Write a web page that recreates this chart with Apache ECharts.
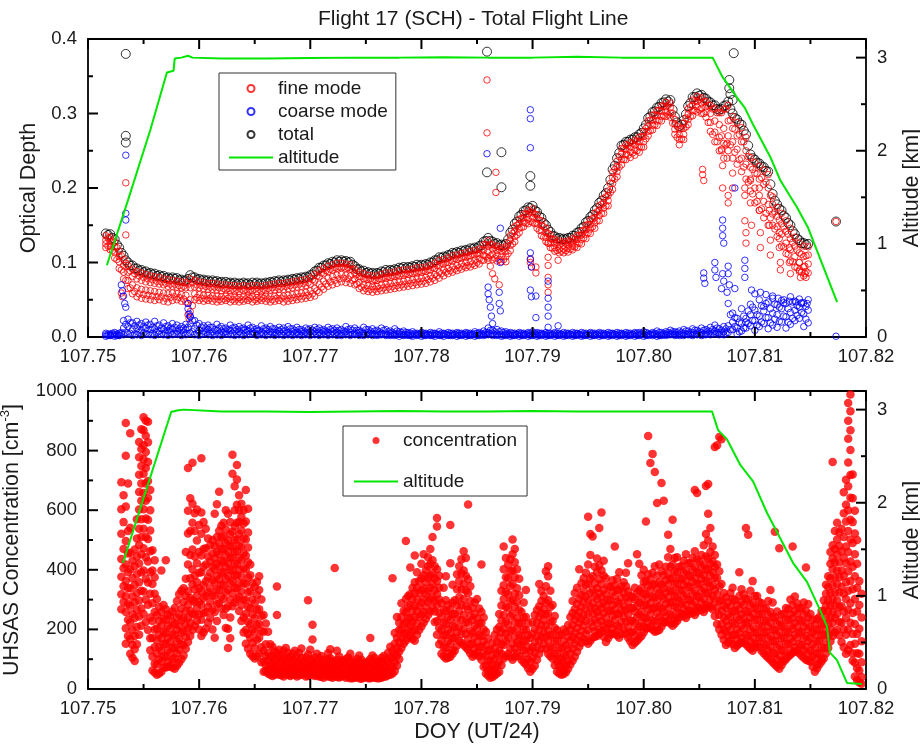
<!DOCTYPE html>
<html>
<head>
<meta charset="utf-8">
<title>Flight 17 (SCH) - Total Flight Line</title>
<script src="https://cdn.jsdelivr.net/npm/echarts@6/dist/echarts.min.js"></script>
<style>
  html, body { margin: 0; padding: 0; background: #ffffff; }
  #chart { width: 920px; height: 748px; }
</style>
</head>
<body>
<div id="chart"></div>
<script>
// ---------- Optical depth samples ----------
// Row samples sit at odStart + i * odStep; the "Half" rows sit halfway between them.
const odStart = 107.7516;
const odStep = 0.0004;
const totalOD = [
  .139,.138,.131,.120,.109,.100,.096,.092,.090,.088,.086,.085,.083,.082,.080,.080,.079,.077,.076,.083,
  .080,.078,.077,.076,.076,.075,.074,.074,.073,.073,.072,.073,.072,.073,.073,.072,.073,.074,.075,.076,
  .076,.077,.078,.079,.080,.081,.083,.088,.093,.096,.099,.101,.103,.103,.102,.101,.095,.091,.089,.087,
  .086,.086,.088,.090,.090,.091,.093,.094,.094,.095,.097,.097,.098,.100,.103,.107,.108,.110,.113,.114,
  .116,.117,.119,.120,.122,.128,.133,.128,.126,.124,.125,.140,.152,.162,.169,.174,.176,.168,.160,.150,
  .141,.135,.133,.132,.133,.136,.140,.146,.154,.161,.170,.180,.190,.200,.225,.240,.257,.262,.265,.268,
  .272,.280,.294,.302,.308,.314,.319,.318,.296,.283,.291,.310,.322,.327,.325,.320,.315,.311,.305,.310,
  .316,.300,.292,.285,.272,.245,.238,.233,.228,.222,.192,.178,.170,.160,.150,.138,.130,.126,.125
];
const totalODHalf = [
  .137,.133,.124,.113,.103,.096,.092,.089,.087,.085,.084,.082,.081,.079,.078,.078,.076,.075,.078,.080,
  .077,.076,.075,.074,.074,.073,.072,.072,.071,.071,.071,.071,.070,.071,.071,.071,.072,.073,.074,.074,
  .075,.076,.077,.078,.079,.080,.084,.089,.093,.096,.098,.100,.101,.101,.100,.097,.091,.088,.086,.085,
  .084,.085,.087,.088,.089,.090,.092,.092,.093,.094,.095,.096,.097,.100,.103,.106,.107,.110,.112,.113,
  .115,.116,.118,.119,.123,.129,.129,.125,.123,.123,.131,.144,.155,.164,.170,.173,.170,.162,.153,.144,
  .136,.132,.131,.131,.133,.136,.141,.148,.156,.164,.173,.183,.193,.211,.230,.247,.258,.262,.265,.268,
  .274,.285,.296,.303,.309,.315,.316,.305,.288,.285,.299,.314,.322,.324,.321,.316,.311,.306,.306,.311,
  .306,.294,.287,.277,.257,.240,.234,.229,.223,.205,.183,.172,.163,.153,.142,.132,.126,.124
];
const fineOD1 = [
  .136,.134,.127,.115,.104,.096,.091,.088,.086,.084,.082,.081,.080,.078,.077,.076,.075,.074,.073,.078,
  .076,.074,.073,.072,.072,.071,.070,.070,.069,.069,.068,.069,.068,.069,.069,.068,.069,.070,.071,.072,
  .072,.073,.074,.075,.076,.077,.079,.084,.089,.092,.095,.097,.099,.099,.098,.097,.091,.087,.085,.083,
  .082,.082,.084,.086,.086,.087,.089,.090,.090,.091,.093,.093,.094,.096,.099,.103,.104,.106,.109,.110,
  .112,.113,.115,.116,.118,.124,.129,.124,.122,.120,.121,.136,.148,.158,.165,.170,.172,.164,.156,.146,
  .137,.131,.129,.128,.129,.132,.136,.142,.150,.157,.166,.176,.186,.196,.221,.236,.253,.258,.261,.264,
  .268,.276,.290,.298,.304,.310,.315,.314,.292,.279,.287,.306,.318,.323,.321,.316,.311,.307,.301,.306,
  .311,.296,.288,.281,.268,.241,.234,.229,.224,.218,.188,.174,.166,.156,.146,.134,.126,.122,.121
];
const fineOD2 = [
  .130,.128,.121,.108,.096,.087,.081,.078,.076,.074,.073,.072,.071,.070,.068,.068,.067,.066,.066,.066,
  .067,.066,.065,.064,.064,.063,.062,.063,.062,.061,.061,.062,.061,.062,.061,.061,.062,.063,.063,.064,
  .064,.065,.066,.067,.068,.069,.071,.075,.081,.085,.088,.090,.092,.093,.092,.091,.086,.081,.078,.077,
  .075,.076,.078,.079,.080,.081,.082,.083,.084,.085,.086,.087,.088,.090,.092,.096,.098,.100,.102,.104,
  .106,.107,.109,.110,.112,.117,.122,.118,.116,.115,.115,.130,.142,.152,.160,.165,.167,.159,.150,.140,
  .132,.126,.124,.123,.124,.127,.131,.137,.144,.151,.160,.170,.180,.190,.214,.229,.246,.252,.255,.258,
  .262,.269,.283,.291,.297,.303,.309,.308,.286,.272,.280,.299,.311,.316,.314,.309,.300,.290,.285,.280,
  .290,.280,.270,.262,.250,.228,.220,.212,.205,.200,.178,.162,.152,.142,.132,.122,.113,.108,.110
];
const fineOD3 = [
  .125,.122,.114,.101,.087,.076,.070,.066,.064,.063,.062,.061,.060,.059,.058,.059,.058,.057,.056,.050,
  .058,.057,.056,.056,.055,.055,.054,.055,.054,.054,.053,.054,.055,.054,.053,.054,.055,.054,.055,.056,
  .055,.056,.057,.058,.059,.060,.062,.065,.071,.075,.079,.081,.083,.084,.083,.082,.078,.073,.070,.069,
  .068,.068,.070,.071,.072,.073,.074,.075,.076,.077,.078,.079,.080,.082,.084,.087,.090,.092,.094,.096,
  .098,.100,.101,.103,.105,.110,.114,.111,.109,.108,.108,.123,.135,.146,.154,.158,.160,.152,.143,.134,
  .126,.120,.118,.118,.119,.122,.125,.131,.138,.145,.153,.163,.173,.183,.206,.222,.238,.245,.248,.251,
  .255,.262,.276,.284,.290,.296,.302,.301,.279,.265,.272,.292,.304,.309,.307,.302,.288,.275,.268,.260,
  .270,.262,.252,.240,.232,.212,.200,.190,.182,.178,.165,.148,.138,.126,.117,.108,.100,.094,.098
];
const fineOD4 = [
  .120,.117,.106,.092,.078,.065,.058,.054,.052,.051,.050,.049,.050,.048,.047,.049,.050,.048,.047,.034,
  .050,.049,.048,.049,.048,.047,.048,.049,.047,.048,.047,.048,.049,.047,.048,.049,.048,.047,.048,.049,
  .047,.048,.049,.050,.051,.052,.053,.055,.060,.064,.068,.070,.072,.074,.073,.072,.070,.065,.062,.061,
  .060,.061,.062,.063,.064,.065,.066,.067,.068,.069,.070,.071,.072,.074,.076,.079,.082,.085,.087,.089,
  .091,.093,.094,.096,.098,.103,.106,.104,.102,.101,.101,.116,.128,.140,.148,.152,.154,.146,.136,.128,
  .120,.115,.113,.113,.114,.117,.120,.125,.132,.139,.146,.156,.166,.176,.198,.215,.231,.238,.241,.244,
  .248,.255,.270,.278,.284,.290,.296,.295,.272,.258,.265,.285,.297,.302,.300,.295,.276,.262,.250,.240,
  .250,.240,.232,.222,.212,.196,.180,.170,.160,.150,.150,.135,.122,.112,.102,.094,.088,.082,.086
];
const fineODHalfUpper = [
  .133,.129,.120,.109,.099,.089,.085,.082,.080,.078,.077,.075,.074,.072,.071,.071,.069,.068,.071,.073,
  .070,.069,.068,.067,.067,.066,.065,.065,.064,.064,.064,.064,.063,.064,.064,.064,.065,.066,.067,.067,
  .068,.069,.070,.071,.072,.073,.077,.082,.086,.089,.091,.093,.094,.094,.093,.090,.084,.081,.079,.078,
  .077,.078,.080,.081,.082,.083,.085,.085,.086,.087,.088,.089,.090,.093,.096,.099,.100,.103,.105,.106,
  .108,.109,.111,.112,.116,.124,.124,.120,.118,.118,.126,.139,.150,.159,.165,.168,.165,.157,.148,.139,
  .131,.127,.126,.126,.128,.131,.136,.143,.151,.159,.168,.178,.188,.206,.225,.242,.253,.257,.260,.263,
  .269,.280,.291,.298,.304,.310,.311,.300,.283,.280,.294,.309,.317,.319,.316,.311,.306,.301,.301,.306,
  .291,.279,.272,.262,.242,.225,.219,.214,.208,.190,.168,.157,.148,.138,.127,.117,.111,.109
];
const fineODHalfLower = [
  .122,.116,.104,.090,.076,.066,.061,.058,.057,.056,.055,.054,.054,.052,.053,.054,.053,.051,.045,.042,
  .053,.052,.051,.052,.051,.050,.051,.052,.050,.051,.050,.051,.052,.050,.051,.052,.051,.050,.052,.052,
  .051,.052,.053,.054,.055,.056,.058,.062,.067,.071,.074,.076,.078,.079,.078,.076,.071,.067,.065,.064,
  .064,.065,.066,.067,.068,.069,.070,.071,.072,.073,.074,.075,.077,.079,.082,.085,.087,.089,.091,.093,
  .095,.096,.098,.100,.103,.108,.109,.106,.104,.104,.112,.125,.137,.147,.153,.155,.152,.143,.134,.126,
  .119,.116,.115,.116,.118,.121,.126,.133,.140,.148,.156,.166,.176,.194,.212,.228,.238,.244,.247,.250,
  .255,.266,.277,.285,.291,.297,.298,.287,.268,.266,.282,.296,.304,.305,.300,.288,.272,.262,.252,.258,
  .258,.248,.238,.228,.208,.192,.182,.172,.166,.160,.145,.132,.121,.111,.101,.093,.087,.088
];
const coarseOD1 = [
  .005,.004,.006,.005,.022,.024,.019,.021,.018,.020,.017,.021,.016,.019,.015,.018,.016,.014,.017,.028,
  .022,.018,.015,.016,.013,.017,.014,.012,.016,.013,.014,.012,.016,.013,.011,.015,.012,.014,.011,.013,
  .012,.014,.011,.013,.010,.012,.011,.013,.012,.010,.013,.011,.012,.010,.014,.011,.012,.009,.013,.010,
  .011,.009,.012,.010,.008,.011,.007,.008,.006,.007,.005,.006,.005,.006,.005,.007,.005,.006,.005,.006,
  .005,.006,.005,.007,.006,.008,.012,.009,.010,.008,.007,.006,.005,.006,.005,.006,.007,.006,.005,.006,
  .005,.006,.005,.006,.005,.006,.005,.006,.005,.006,.005,.006,.005,.006,.005,.006,.005,.006,.005,.006,
  .006,.007,.005,.006,.008,.006,.007,.009,.007,.008,.010,.008,.011,.009,.012,.010,.013,.016,.011,.014,
  .045,.032,.025,.038,.020,.044,.036,.050,.041,.047,.052,.043,.049,.045,.054,.048,.051,.046,.050
];
const coarseOD2 = [
  .003,.002,.003,.002,.012,.014,.010,.011,.009,.012,.010,.011,.008,.010,.009,.011,.008,.009,.010,.018,
  .011,.009,.008,.010,.007,.009,.008,.007,.009,.008,.007,.009,.008,.007,.008,.006,.008,.007,.006,.008,
  .007,.006,.007,.006,.007,.006,.007,.007,.006,.007,.006,.007,.006,.005,.007,.006,.005,.006,.005,.006,
  .005,.004,.005,.004,.005,.004,.004,.003,.004,.003,.003,.004,.003,.003,.004,.003,.004,.003,.003,.004,
  .003,.004,.003,.004,.003,.004,.006,.005,.004,.003,.004,.003,.003,.004,.003,.004,.003,.003,.004,.003,
  .003,.004,.003,.003,.004,.003,.004,.003,.003,.004,.003,.004,.003,.003,.004,.003,.004,.003,.003,.004,
  .003,.004,.003,.004,.004,.003,.004,.005,.004,.004,.005,.004,.006,.005,.006,.005,.007,.008,.006,.007,
  .015,.020,.012,.018,.025,.030,.022,.028,.035,.026,.032,.030,.038,.027,.033,.036,.040,.031,.036
];
const coarseOD3 = [
  .001,.002,.001,.002,.003,.004,.002,.003,.002,.004,.003,.002,.004,.003,.002,.003,.004,.002,.003,.005,
  .003,.002,.004,.003,.002,.003,.002,.004,.003,.002,.003,.002,.003,.004,.002,.003,.002,.003,.002,.003,
  .002,.003,.002,.003,.002,.003,.002,.003,.002,.003,.002,.003,.002,.002,.003,.002,.003,.002,.002,.003,
  .002,.002,.003,.002,.002,.002,.001,.002,.002,.001,.002,.001,.002,.002,.001,.002,.001,.002,.002,.001,
  .002,.001,.002,.001,.002,.002,.003,.002,.002,.001,.002,.001,.002,.001,.002,.001,.002,.001,.002,.001,
  .002,.001,.002,.001,.002,.001,.002,.001,.002,.001,.002,.001,.002,.001,.002,.001,.002,.001,.002,.001,
  .002,.001,.002,.002,.001,.002,.002,.003,.002,.002,.002,.003,.002,.003,.002,.003,.003,.004,.003,.003,
  .006,.010,.004,.008,.012,.015,.009,.014,.018,.011,.016,.013,.020,.012,.017,.022,.025,.014,.019
];
const coarseODHalfLower = [
  .002,.003,.002,.004,.006,.005,.004,.006,.005,.004,.005,.006,.004,.005,.006,.004,.005,.006,.005,.007,
  .005,.004,.006,.005,.004,.005,.006,.004,.005,.004,.005,.006,.004,.005,.004,.005,.004,.006,.005,.004,
  .005,.004,.005,.004,.005,.004,.005,.004,.005,.004,.004,.005,.004,.005,.004,.004,.005,.004,.004,.005,
  .004,.003,.004,.003,.003,.004,.003,.003,.002,.003,.003,.002,.003,.002,.003,.002,.003,.002,.003,.002,
  .003,.002,.003,.002,.003,.003,.004,.003,.003,.002,.003,.002,.003,.002,.003,.002,.003,.002,.003,.002,
  .003,.002,.003,.002,.003,.002,.003,.002,.003,.002,.003,.002,.003,.002,.003,.002,.003,.002,.003,.002,
  .003,.002,.003,.003,.002,.003,.003,.004,.003,.003,.004,.003,.004,.004,.003,.004,.005,.006,.004,.005,
  .010,.014,.007,.012,.018,.022,.016,.020,.026,.019,.024,.021,.028,.020,.025,.029,.033,.024
];
const coarseODHalfUpper = [
  .004,.005,.004,.006,.017,.019,.015,.016,.014,.016,.013,.015,.012,.014,.012,.013,.011,.012,.013,.022,
  .016,.013,.012,.013,.010,.012,.011,.010,.012,.010,.011,.010,.012,.010,.009,.011,.010,.011,.009,.010,
  .009,.011,.009,.010,.008,.010,.009,.010,.009,.008,.010,.009,.009,.008,.010,.009,.009,.007,.010,.008,
  .008,.007,.009,.007,.006,.008,.006,.006,.005,.005,.004,.005,.004,.005,.004,.005,.004,.005,.004,.005,
  .004,.005,.004,.005,.005,.006,.009,.007,.007,.006,.005,.005,.004,.005,.004,.005,.005,.005,.004,.005,
  .004,.005,.004,.005,.004,.005,.004,.005,.004,.005,.004,.005,.004,.005,.004,.005,.004,.005,.004,.005,
  .005,.006,.004,.005,.006,.005,.006,.007,.006,.006,.008,.006,.009,.007,.009,.008,.010,.012,.009,.011,
  .030,.026,.020,.028,.035,.040,.030,.042,.045,.038,.044,.040,.046,.038,.047,.042,.045,.041
];
// Isolated retrievals off the main sequence: [DOY, optical depth]
const totalExtra = [
  [107.7534,.380],[107.7534,.270],[107.7534,.261],[107.7859,.383],[107.7859,.221],
  [107.7872,.248],[107.7872,.201],[107.7898,.216],[107.7898,.203],[107.8081,.381],
  [107.8077,.345],[107.8077,.334],[107.8078,.326],[107.8080,.318],[107.8173,.155]
];
const fineExtra = [
  [107.7534,.207],[107.7534,.137],[107.7530,.059],[107.7531,.054],[107.7591,.025],[107.7590,.030],
  [107.7859,.345],[107.7859,.274],[107.7867,.221],[107.7867,.194],[107.7860,.103],[107.7862,.095],
  [107.7864,.085],[107.7866,.078],[107.7870,.070],[107.7898,.105],[107.7898,.100],[107.7899,.094],
  [107.7903,.094],[107.7903,.086],[107.7914,.126],[107.7914,.107],[107.7914,.096],[107.7914,.080],
  [107.7914,.070],[107.7914,.060],[107.7923,.103],
  [107.8053,.225],[107.8053,.218],[107.8054,.210],[107.8070,.270],[107.8070,.250],[107.8071,.230],
  [107.8071,.200],[107.8075,.260],[107.8075,.240],[107.8076,.190],[107.8076,.180],[107.8080,.220],
  [107.8080,.200],[107.8091,.200],[107.8091,.190],[107.8091,.156],[107.8092,.140],[107.8092,.126],
  [107.8096,.210],[107.8096,.180],[107.8097,.150],[107.8104,.200],[107.8104,.170],[107.8105,.140],
  [107.8105,.120],[107.8113,.170],[107.8113,.150],[107.8114,.130],[107.8114,.110],[107.8122,.140],
  [107.8122,.120],[107.8123,.100],[107.8123,.090],[107.8131,.120],[107.8131,.100],[107.8132,.085],
  [107.8140,.100],[107.8140,.090],[107.8141,.080],[107.8145,.095],[107.8145,.085],[107.8146,.080],
  [107.8173,.155]
];
const coarseExtra = [
  [107.7530,.070],[107.7531,.062],[107.7532,.055],[107.7533,.045],[107.7534,.040],[107.7534,.166],
  [107.7534,.157],[107.7534,.244],[107.7590,.045],[107.7590,.038],[107.7591,.031],[107.7592,.027],
  [107.7859,.246],[107.7860,.067],[107.7860,.058],[107.7861,.050],[107.7862,.040],[107.7863,.028],
  [107.7864,.018],[107.7871,.146],[107.7871,.100],[107.7870,.060],[107.7870,.045],[107.7871,.035],
  [107.7898,.305],[107.7898,.293],[107.7898,.254],[107.7898,.113],[107.7898,.104],[107.7899,.094],
  [107.7898,.063],[107.7899,.054],[107.7903,.055],[107.7903,.026],[107.7914,.075],[107.7914,.052],
  [107.7914,.040],[107.7914,.028],[107.7914,.013],[107.7923,.015],
  [107.8054,.086],[107.8054,.079],[107.8055,.072],[107.8064,.100],[107.8064,.090],[107.8065,.080],
  [107.8071,.157],[107.8071,.146],[107.8071,.136],[107.8072,.126],[107.8071,.085],[107.8072,.075],
  [107.8070,.065],[107.8076,.095],[107.8076,.085],[107.8077,.070],[107.8075,.060],[107.8082,.200],
  [107.8082,.065],[107.8091,.103],[107.8091,.092],[107.8091,.080],[107.8097,.063],[107.8100,.058],
  [107.8105,.060],[107.8110,.057],[107.8116,.055],[107.8121,.052],[107.8126,.050],[107.8131,.048],
  [107.8137,.047],[107.8142,.046],[107.8147,.045],[107.8173,.001]
];

// ---------- Aircraft altitude, km ----------
const altTopTime = [
  107.7517,107.7536,107.7556,107.7571,107.7577,107.7578,107.7584,107.7590,107.7594,107.7620,
  107.7660,107.7700,107.7740,107.7780,107.7820,107.7860,107.7900,107.7940,107.7980,107.8020,
  107.8062,107.8071,107.8084,107.8091,107.8098,107.8114,107.8123,107.8138,107.8148,107.8174
];
const altTopKm = [
  0.77,1.47,2.22,2.84,2.86,2.99,3.00,3.02,3.00,2.99,2.99,2.995,3.00,3.00,3.005,3.00,3.00,3.01,3.00,3.00,
  3.00,2.79,2.57,2.46,2.29,1.93,1.68,1.39,1.17,0.375
];
const altBotTime = [
  107.75315,107.7550,107.7575,107.7577,107.7580,107.7586,107.7620,107.7660,107.7700,107.7740,
  107.7780,107.7820,107.7860,107.7900,107.7940,107.7980,107.8020,107.80615,107.80669,107.8075,
  107.80867,107.80984,107.8111,107.81343,107.81469,107.81586,107.81649,107.81676,107.81739,107.81829,
  107.81964
];
const altBotKm = [
  1.355,2.05,2.98,2.98,2.99,3.00,2.98,2.98,2.975,2.98,2.985,2.98,2.98,2.985,2.98,2.98,2.98,2.98,2.78,2.68,
  2.41,2.23,1.89,1.355,1.15,0.85,0.67,0.39,0.31,0.065,0.054
];

// ---------- UHSAS concentration, cm^-3 ----------
// concColumns[j] at concStart + j * concStep; concColumnsHalf[j] halfway to the next column.
const concStart = 107.7530;
const concStep = 0.0004;
const concColumns = [
  [268,318,377,436,521,603,694],[152,204,258,311,362,418,497,612,783,893],[118,168,223,279,338,402,457,541,858],
  [94,133,178,238,291,349,412,468],[182,243,297,358,421,483,538,602,661,719,778,829],
  [252,327,398,472,538,603,658,722,771,818,868,912],[198,283,357,428,503,568,641,698,762,828,897],
  [62,108,172,228,288,352,398,466],[48,82,118,163,203,248,302],[58,92,128,171,212,258,398],
  [72,108,152,188,232,268,432],[78,122,158,203,247],[68,103,138,182,218,272],[88,132,168,212,251,318],
  [112,148,193,238,292,338],[158,203,238,283,328,418,522,598,742],[198,252,298,351,402,468,558,622,759],
  [228,272,313,358,422,498,602],[178,232,283,328,392,448,521,592,774],[202,258,312,361,418,472,538],
  [238,292,338,391,428,482],[172,258,312,358,402,438,481,588],[288,332,368,412,452,488,531,662],
  [248,302,348,392,428,471,512,558],[138,202,278,332,378,422,461,498,588],[278,322,362,398,441,478,528,722,786],
  [302,338,382,418,462,502,558,618,703,752],[228,282,328,378,432,478,532,578,622],
  [152,198,252,298,352,402,448,502,562,668],[118,172,218,272,328,382,418],[102,138,192,238,288,342],
  [118,172,218,268,332,378],[58,92,128,192,248],[52,68,97,122,192],[44,66,84,112,142],[52,68,96,121,248,344],
  [46,64,91,114],[51,72,94,138],[44,66,86,108],[49,71,96,128],[46,64,89,121],[51,69,94],[44,66,86,116,298],
  [49,71,94,166,216],[46,64,91,118],[41,61,84,111],[46,66,89],[41,59,81,104,133],[44,66,86,406],[39,61,84,109],
  [46,64,91],[41,59,79,106],[36,56,74,96],[41,61,79,101],[34,56,76,98],[41,59,86],[36,54,76,101,171],
  [39,61,79,104],[36,54,76,94],[41,61,84,111],[46,64,91,122],[52,74,102,128,372],[78,112,138,172,242],
  [138,172,198,242,288],[162,188,222,258,302,497],[178,212,238,282,318,408],[162,198,242,278,322,358,448],
  [198,242,278,322,362],[222,258,302,338,382,452],[248,292,328,372,412,442],[272,308,352,388,432,510],
  [182,228,282,318,362,402,545,574],[118,162,198,242,288],[102,138,182,218,262,298,378],
  [108,152,188,232,268,422,550],[128,172,208,252,298],[162,208,262,308,362,412],[148,202,248,302,352,398,462],
  [132,168,222,268,322,368,619],[108,152,188,232,272],[122,158,202,238,302],[98,142,178,222,258,418],
  [52,78,112,148,192],[38,66,94,132],[46,68,102,138,182],[58,92,128,172,208,252],
  [102,148,202,248,302,348,402,478],[118,172,218,272,318,372,418],[98,152,198,252,298,352,398,452,502],
  [122,158,202,238,292,338,402],[98,142,178,222,258],[82,118,162,198,242,332],[58,92,128,172],
  [78,122,158,202,248],[118,162,198,242,278,352],[152,188,232,268,312],[118,162,198,252,298,378,412],
  [102,138,182,228,282],[58,92,118,162,198],[48,76,102,138,182],[56,78,112,148,192],[82,118,162,198,242],
  [108,152,188,232,268,322],[142,178,222,258,302,402],[168,212,248,292,328,372],[152,198,252,298,352,418,578],
  [172,208,252,288,332,378,512],[178,222,258,302,338,392,438],[192,228,272,308,352,398,592],
  [158,202,238,282,318,372],[182,218,262,298,342],[188,232,268,312,348,478],[172,208,252,288,332,392],
  [198,242,278,322,358],[172,208,252,292,328,422],[148,192,228,272,308],[162,198,242,278,322,452],
  [178,222,258,302,338,382],[202,238,282,318,362,562],[208,252,288,332,368,758],[192,228,272,308,352,412,728],
  [198,242,278,322,358,418],[222,258,302,338,382,632],[228,272,308,352,388,442,518],
  [212,248,292,328,372,418,568],[228,272,308,352,392,442],[252,288,332,368,412],[238,282,318,362,398,452],
  [262,298,342,378,422],[248,292,328,372,408,462,668],[272,308,352,388,428],[258,302,338,382,418,482],
  [278,322,358,402,438,498,588,688],[268,312,348,392,428,478],[218,272,318,372,418,818],
  [182,218,262,298,352,838],[148,192,228,272,308],[162,198,242,278,322],[138,182,218,262,298],
  [152,188,232,268,312,392],[158,202,238,282,318],[142,178,222,258,302,518],[128,172,208,252,288,362],
  [152,188,232,268,312],[128,172,208,252,288],[112,148,192,228,272],[98,142,178,222,258,332],
  [82,118,162,198,242,528],[68,112,148,192,228,472],[92,128,172,208,252],[108,152,188,232,268],
  [122,158,202,238,282,478],[128,172,208,252,288],[112,148,192,228,272],[98,142,178,222,262,408],
  [92,128,172,208,252],[58,102,138,182,218],[82,118,162,198,242],[102,138,182,218,262,298],
  [138,182,218,262,298,342,378],[178,222,258,302,348,402,438,482,762],[198,252,298,352,398,452,502,558],
  [158,222,278,342,398,462,538],[118,182,238,302,358,422,478,562,618,702],
  [148,222,288,362,428,502,568,642,718,802,868,932,988],[42,88,152,218,302,378,452,522,598],
  [22,62,118,202,282,362]
];
const concColumnsHalf = [
  [292,345,405,470,560,650],[178,232,285,338,392,455,530,690],[105,148,198,252,310,372,430],
  [150,208,265,322,385,445,505,570],[212,270,330,392,452,510,570,632,690,748,805,872],
  [225,300,370,442,510,572,632,690,742,795,850,900],[130,170,240,320,392,462,532,600,668],
  [55,85,140,200,258,320,375,432],[52,100,140,182,228,275],[72,110,150,192,235,282],[75,92,130,172,212,250],
  [72,100,140,180,225,260],[78,120,160,200,240,295],[100,150,190,230,270,330],[135,175,215,262,312,370,460],
  [178,222,262,305,372,450,530,640],[212,250,292,335,380,445,530,590],[200,250,292,338,390,460,550],
  [190,255,305,350,410,470,560],[222,275,325,375,445,505],[200,265,315,365,410,455,500],
  [228,285,335,380,420,460,510,620],[270,310,350,390,430,470,510,548],[205,270,325,370,410,450,490,535,600],
  [170,240,300,355,400,440,480,520,560],[290,340,380,420,460,500,545,600,680],
  [262,310,355,400,440,480,520,560,600,650],[190,240,300,355,405,455,505,555,600],
  [135,185,225,275,325,375,425,475,525,605],[110,155,200,250,300,355],[110,165,215,265,315,360],
  [90,140,195,245,300],[60,80,110,150,220],[48,60,82,108,150],[48,58,75,98,126],[48,58,80,106,132],
  [42,56,78,102,128],[48,58,82,106,122],[48,55,76,98,118],[42,58,80,108],[48,56,78,104,136],[42,58,80,106],
  [48,56,78,100,132],[44,58,82,106],[42,54,76,102],[38,52,74,98],[42,54,78,100,120],[38,50,72,94],
  [40,56,76,98,128],[42,52,72,96],[38,54,78,100],[36,50,70,92,118],[38,46,66,86],[36,50,70,90,112],
  [38,46,66,88],[36,48,68,92],[38,46,66,88,112],[36,50,70,92],[38,46,66,86,104],[42,52,72,98],
  [48,56,78,106,142],[60,90,118,152,188],[100,125,158,198,222],[152,185,218,262],[172,200,238,275,312],
  [168,195,225,262,300,340],[182,220,262,300,340,392],[210,250,290,332,372,420],[235,275,318,358,398],
  [260,300,340,380,420,470],[225,260,295,332,372,412],[150,205,255,300,340,380],[110,140,180,222,265,340],
  [105,120,160,200,242,282],[118,130,170,212,252,290,350],[145,190,235,282,335,385],
  [155,185,232,282,335,388,435],[140,185,225,278,330,380,440],[120,150,195,245,295,345],
  [115,135,175,212,252,290],[110,140,180,220,270],[75,120,160,200,240],[45,62,95,130,170],
  [40,55,80,112,155],[52,80,118,158,200],[80,118,150,190,230,280,330],[110,160,185,225,275,325,375,440],
  [108,135,195,245,295,345,395,435],[108,135,175,225,275,320,375,425,470],[110,150,180,220,265,315,370],
  [90,130,160,200,240,290],[70,100,140,180,220],[68,105,140,185,225],[98,140,178,222,265],
  [135,175,215,255,295,330],[135,175,212,250,290,345,395],[110,140,180,225,275,330],[80,118,160,205,245],
  [52,75,100,140,180],[50,62,88,120,160,200],[68,95,135,175,215],[95,135,175,215,255,295],
  [125,165,205,245,285,340],[155,195,235,275,315,355],[160,185,228,270,310,350,390],
  [162,225,275,322,370,450,520],[175,195,232,270,312,355,410],[185,200,245,282,322,368,415,540],
  [175,212,255,290,332,380,430],[170,190,220,262,300,345],[185,205,245,282,325,365],
  [180,212,252,292,332,370],[185,225,265,305,345],[185,225,265,305,345,390],[160,190,230,272,312],
  [155,180,220,260,300,340],[170,210,250,290,330,420],[190,210,240,280,320,360,400],
  [205,225,265,305,345,385,849],[200,230,270,310,350,390,789],[195,212,255,295,335,380,624],
  [210,230,270,312,350,395,691],[225,245,285,325,365,410],[220,250,290,330,370,410,470],
  [220,235,275,312,352,395,440],[240,255,295,332,372,410],[245,270,312,350,390,430],
  [250,262,300,342,382,422],[255,280,320,360,400,440],[260,272,312,352,392,435,658],
  [265,290,330,370,410,450],[270,282,322,362,400,445,520,681],[275,300,342,382,420,460,540],
  [245,292,332,372,410,450,812],[200,248,295,345,395,846],[165,200,240,280,322],[155,175,212,250,292],
  [150,180,222,260,302,340],[145,165,200,240,282],[155,172,212,250,292,335],[150,182,222,262,302,540],
  [135,160,200,240,282,330],[140,152,190,232,272,312],[140,172,212,250,292],[120,152,190,230,270],
  [105,130,170,210,250,295],[90,122,160,200,240,290],[75,100,140,180,220,260],[80,92,130,170,212,250],
  [100,110,150,192,232,272],[115,130,170,212,252,300],[125,140,182,222,262,310],[120,150,190,232,272],
  [105,130,170,210,250,290],[95,120,160,200,240,285],[75,110,150,190,232],[70,82,120,160,200,235],
  [92,100,140,180,220,262],[120,160,200,240,280,320,350],[160,200,240,280,322,372,420,460],
  [190,238,280,325,375,425,470,530],[180,225,275,325,375,425,480,525],
  [140,200,260,320,380,440,510,590,660],[130,200,265,330,395,460,530,600,680,760,840,900,960],
  [95,120,185,255,335,410,490,560,640,720],[30,70,120,185,260,340,420,500],[18,40,90,160,240,320]
];

// ---------- axis ticks ----------
const doyTicks = ['107.75','107.76','107.77','107.78','107.79','107.80','107.81','107.82'];
const doyMinorTicks = [107.755,107.765,107.775,107.785,107.795,107.805,107.815];
const odTicks = [0, 0.1, 0.2, 0.3, 0.4];
const odMinorTicks = [0.05, 0.15, 0.25, 0.35];
const concTicks = [0, 200, 400, 600, 800, 1000];
const concMinorTicks = [100, 300, 500, 700, 900];
const altTicks = [0, 1, 2, 3];
const altMinorTicks = [0.5, 1.5, 2.5];

// ---------- assemble point lists ----------
function rowsToPoints(start, step, rows) {
  const pts = [];
  rows.forEach(row => row.forEach((v, i) => pts.push([start + i * step, v])));
  return pts;
}
function columnsToPoints(start, step, cols) {
  const pts = [];
  cols.forEach((col, j) => col.forEach(v => pts.push([start + j * step, v])));
  return pts;
}
const halfStart = odStart + odStep / 2;
const totalPts = rowsToPoints(odStart, odStep, [totalOD])
  .concat(rowsToPoints(halfStart, odStep, [totalODHalf]), totalExtra);
const finePts = rowsToPoints(odStart, odStep, [fineOD1, fineOD2, fineOD3, fineOD4])
  .concat(rowsToPoints(halfStart, odStep, [fineODHalfUpper, fineODHalfLower]), fineExtra);
const coarsePts = rowsToPoints(odStart, odStep, [coarseOD3, coarseOD2, coarseOD1])
  .concat(rowsToPoints(halfStart, odStep, [coarseODHalfLower, coarseODHalfUpper]), coarseExtra);
const altTopPts = altTopTime.map((t, i) => [t, altTopKm[i]]);
const altBotPts = altBotTime.map((t, i) => [t, altBotKm[i]]);
const concPts = columnsToPoints(concStart, concStep, concColumns)
  .concat(columnsToPoints(concStart + concStep / 2, concStep, concColumnsHalf));

// Inward tick marks around each frame: [x, y, dx, dy] = data anchor plus pixel offset.
const X0 = 107.75, X1 = 107.82;
const doyMajor = doyTicks.map(Number);
function frameTicks(yMin, yMax, yMajor, yMinor) {
  const t = [];
  doyMajor.forEach(v => { t.push([v, yMin, 0, -10]); t.push([v, yMax, 0, 10]); });
  doyMinorTicks.forEach(v => { t.push([v, yMin, 0, -5]); t.push([v, yMax, 0, 5]); });
  yMajor.forEach(v => t.push([X0, v, 10, 0]));
  yMinor.forEach(v => t.push([X0, v, 5, 0]));
  return t;
}
function rightTicks(major, minor) {
  return major.map(v => [X1, v, -10, 0]).concat(minor.map(v => [X1, v, -5, 0]));
}
function tickSeries(xAxisIndex, yAxisIndex, data) {
  return {
    type: 'custom', xAxisIndex, yAxisIndex, data, silent: true, clip: false, z: 20,
    encode: { x: 0, y: 1 },
    renderItem: (params, api) => {
      const p = api.coord([api.value(0), api.value(1)]);
      return {
        type: 'line',
        shape: { x1: p[0], y1: p[1], x2: p[0] + api.value(2), y2: p[1] + api.value(3) },
        style: { stroke: '#000000', lineWidth: 2 }
      };
    }
  };
}

// ---------- styling ----------
const FONT = '"Liberation Sans", Arial, Helvetica, sans-serif';
const INK = '#1a1a1a';
const GREEN = '#00e600';
const frameLine = () => ({ color: '#000000', width: 1.8 });

function doyAxis(gridIndex, position, extra) {
  return Object.assign({
    type: 'value', gridIndex, position, min: X0, max: X1, interval: 0.01,
    axisLine: { show: true, onZero: false, lineStyle: frameLine() },
    axisTick: { show: false }, minorTick: { show: false },
    splitLine: { show: false },
    axisLabel: position === 'bottom'
      ? { show: true, margin: 10, fontSize: 18.5, color: INK, fontFamily: FONT,
          formatter: v => doyTicks[Math.round((v - X0) / 0.01)] || '' }
      : { show: false }
  }, extra || {});
}
function altAxis(gridIndex) {
  return {
    type: 'value', gridIndex, position: 'right', min: 0, max: 3.2, interval: 1,
    name: 'Altitude [km]', nameLocation: 'middle', nameRotate: 90, nameGap: 35,
    nameTextStyle: { fontSize: 21.5, color: INK, fontFamily: FONT },
    axisLine: { show: true, onZero: false, lineStyle: frameLine() },
    axisTick: { show: false }, splitLine: { show: false },
    axisLabel: { margin: 11, fontSize: 18.5, color: INK, fontFamily: FONT,
      formatter: v => (altTicks.indexOf(v) >= 0 ? String(v) : '') }
  };
}

const hollow = (c) => ({ color: 'rgba(0,0,0,0)', borderColor: c, borderWidth: 1 });
const LINE_ICON = 'path://M0 0H44V2H0Z';

const option = {
  animation: false,
  backgroundColor: '#ffffff',
  textStyle: { fontFamily: FONT },
  title: {
    text: 'Flight 17 (SCH) - Total Flight Line',
    left: 318, top: 9, padding: 0,
    textStyle: { fontSize: 21, fontWeight: 'normal', color: INK, fontFamily: FONT }
  },
  legend: [
    {
      data: ['fine mode', 'coarse mode', 'total', { name: 'altitude', icon: LINE_ICON }],
      orient: 'vertical', left: 219, top: 73,
      padding: [6, 8, 3, 10], itemGap: 4, itemWidth: 44, itemHeight: 7,
      borderColor: '#333', borderWidth: 1, selectedMode: false,
      textStyle: { fontSize: 19, color: INK, fontFamily: FONT }
    },
    {
      data: ['concentration', { name: 'altitude', icon: LINE_ICON }],
      orient: 'vertical', left: 343, top: 426,
      padding: [5, 10, 5, 11], itemGap: 22, itemWidth: 44, itemHeight: 7,
      borderColor: '#333', borderWidth: 1, selectedMode: false,
      textStyle: { fontSize: 19, color: INK, fontFamily: FONT }
    }
  ],
  grid: [
    { left: 88, right: 54, top: 39, height: 298, containLabel: false, outerBoundsMode: 'none' },
    { left: 88, right: 54, top: 391, height: 298, containLabel: false, outerBoundsMode: 'none' }
  ],
  xAxis: [
    doyAxis(0, 'bottom'),
    doyAxis(0, 'top'),
    doyAxis(1, 'bottom', {
      name: 'DOY (UT/24)', nameLocation: 'middle', nameGap: 32,
      nameTextStyle: { fontSize: 21.5, color: INK, fontFamily: FONT }
    }),
    doyAxis(1, 'top')
  ],
  yAxis: [
    {
      type: 'value', gridIndex: 0, position: 'left', min: 0, max: 0.4, interval: 0.1,
      name: 'Optical Depth', nameLocation: 'middle', nameRotate: 90, nameGap: 44,
      nameTextStyle: { fontSize: 21.5, color: INK, fontFamily: FONT },
      axisLine: { show: true, onZero: false, lineStyle: frameLine() },
      axisTick: { show: false }, minorTick: { show: false }, splitLine: { show: false },
      axisLabel: { margin: 11, fontSize: 18.5, color: INK, fontFamily: FONT, formatter: v => v.toFixed(1) }
    },
    altAxis(0),
    {
      type: 'value', gridIndex: 1, position: 'left', min: 0, max: 1000, interval: 200,
      name: 'UHSAS Concentration [cm{sup|-3}]', nameLocation: 'middle', nameRotate: 90, nameGap: 48,
      nameTextStyle: {
        fontSize: 21.5, color: INK, fontFamily: FONT, lineHeight: 26,
        rich: { sup: { fontSize: 13, color: INK, fontFamily: FONT, lineHeight: 13, verticalAlign: 'top' } }
      },
      axisLine: { show: true, onZero: false, lineStyle: frameLine() },
      axisTick: { show: false }, minorTick: { show: false }, splitLine: { show: false },
      axisLabel: { margin: 11, fontSize: 18.5, color: INK, fontFamily: FONT, formatter: v => String(v) }
    },
    altAxis(1)
  ],
  series: [
    { name: 'total', type: 'scatter', xAxisIndex: 0, yAxisIndex: 0,
      symbol: 'circle', symbolSize: 9, itemStyle: hollow('#000000'), data: totalPts, z: 2 },
    { name: 'fine mode', type: 'scatter', xAxisIndex: 0, yAxisIndex: 0,
      symbol: 'circle', symbolSize: 6.5, itemStyle: hollow('#ff0000'), data: finePts, z: 3 },
    { name: 'coarse mode', type: 'scatter', xAxisIndex: 0, yAxisIndex: 0,
      symbol: 'circle', symbolSize: 6.5, itemStyle: hollow('#0000ff'), data: coarsePts, z: 4 },
    { name: 'altitude', type: 'line', xAxisIndex: 0, yAxisIndex: 1,
      symbol: 'none', lineStyle: { color: GREEN, width: 2 }, itemStyle: { color: GREEN }, data: altTopPts, z: 5 },
    { name: 'concentration', type: 'scatter', xAxisIndex: 2, yAxisIndex: 2,
      symbol: 'circle', symbolSize: 8.5, itemStyle: { color: '#ff0000' }, data: concPts, z: 3 },
    { name: 'altitude', type: 'line', xAxisIndex: 2, yAxisIndex: 3,
      symbol: 'none', lineStyle: { color: GREEN, width: 2 }, itemStyle: { color: GREEN }, data: altBotPts, z: 5 },
    tickSeries(0, 0, frameTicks(0, 0.4, odTicks, odMinorTicks)),
    tickSeries(0, 1, rightTicks(altTicks, altMinorTicks)),
    tickSeries(2, 2, frameTicks(0, 1000, concTicks, concMinorTicks)),
    tickSeries(2, 3, rightTicks(altTicks, altMinorTicks))
  ]
};

const chart = echarts.init(document.getElementById('chart'), null, { renderer: 'canvas' });
chart.setOption(option);
</script>
</body>
</html>
